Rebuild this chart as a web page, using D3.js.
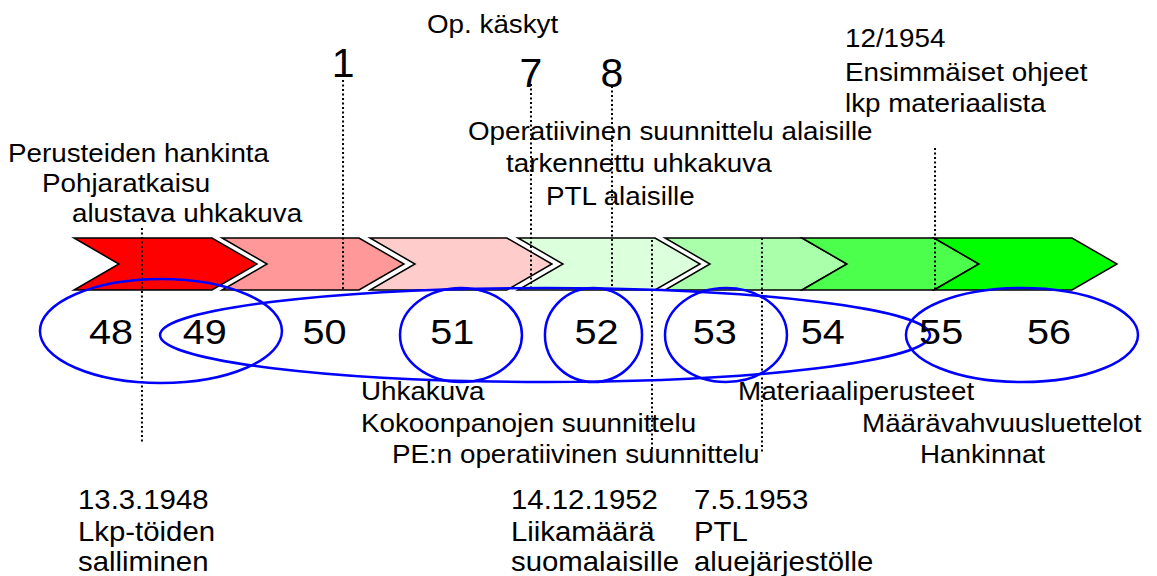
<!DOCTYPE html>
<html>
<head>
<meta charset="utf-8">
<script src="https://cdn.jsdelivr.net/npm/d3@7"></script>
<style>
body { margin: 0; background: #fff; }
text { font-family: "Liberation Sans", Arial, sans-serif; fill: #000; }
</style>
</head>
<body>
<div id="chart-area"></div>
<script>
/*
*    timeline 1948-1956
*/

// years shown under the arrows, and where they sit on the timeline
var years = ["48", "49", "50", "51", "52", "53", "54", "55", "56"];
var yearPos = [1948.0, 1948.8, 1949.82, 1950.91, 1952.14, 1953.15, 1954.07, 1955.08, 1956.0];

// phases (arrows), start and end in years
var phaseStart = [1947.684, 1948.947, 1950.209, 1951.471, 1952.725, 1953.893, 1955.019];
var phaseEnd   = [1948.861, 1950.115, 1951.377, 1952.640, 1953.893, 1955.019, 1956.196];

// blue ovals, from / to in years
var ovalFrom = [1947.394, 1948.418, 1950.465, 1951.701, 1952.725, 1954.780];
var ovalTo   = [1949.458, 1954.985, 1951.505, 1952.529, 1953.765, 1956.759];

// dotted milestone lines, in years
var milestones = [1948.264, 1949.979, 1951.582, 1952.273, 1952.614, 1953.552, 1955.028];
var orderNums = ["1", "7", "8"];   // op. käskyt at milestones 1..3

// texts
var notesStart = ["Perusteiden hankinta", "Pohjaratkaisu", "alustava uhkakuva"];
var notesOrders = ["Op. käskyt"];
var notesOper = ["Operatiivinen suunnittelu alaisille", "tarkennettu uhkakuva", "PTL alaisille"];
var notes1954 = ["12/1954", "Ensimmäiset ohjeet", "lkp materiaalista"];
var notesThreat = ["Uhkakuva", "Kokoonpanojen suunnittelu", "PE:n operatiivinen suunnittelu"];
var notesMat = ["Materiaaliperusteet", "Määrävahvuusluettelot", "Hankinnat"];
var note1948 = ["13.3.1948", "Lkp-töiden", "salliminen"];
var note1952 = ["14.12.1952", "Liikamäärä", "suomalaisille"];
var note1953 = ["7.5.1953", "PTL", "aluejärjestölle"];

var svg = d3.select("#chart-area").append("svg")
    .attr("width", 1157)
    .attr("height", 576);

var x = d3.scaleLinear()
    .domain([1948, 1956])
    .range([111, 1049]);

// arrows
var colors = ["#ff0000", "#ff9999", "#ffcccc", "#dcffdc", "#aaffaa", "#4cff4c", "#00ff00"];
var arrowTop = 238, arrowBottom = 290, arrowMid = 264, tip = 45;

svg.selectAll(".phase")
    .data(phaseStart)
    .enter().append("polygon")
    .attr("class", "phase")
    .attr("points", function(d, i) {
        var x0 = x(d), x1 = x(phaseEnd[i]);
        return [[x0, arrowTop], [x1, arrowTop], [x1 + tip, arrowMid], [x1, arrowBottom],
                [x0, arrowBottom], [x0 + tip, arrowMid]].join(" ");
    })
    .attr("fill", function(d, i) { return colors[i]; })
    .attr("stroke", "black")
    .attr("stroke-width", 1.5)
    .attr("stroke-linejoin", "miter");

// dotted lines
var lineSpan = [[228, 442], [80, 290], [84, 290], [86, 290], [240, 452], [238, 452], [148, 290]];

svg.selectAll(".milestone")
    .data(milestones)
    .enter().append("line")
    .attr("class", "milestone")
    .attr("x1", function(d) { return x(d); })
    .attr("x2", function(d) { return x(d); })
    .attr("y1", function(d, i) { return lineSpan[i][0]; })
    .attr("y2", function(d, i) { return lineSpan[i][1]; })
    .attr("stroke", "black")
    .attr("stroke-width", 2)
    .attr("stroke-dasharray", "2,2.5");

// ovals (the first one sits a little higher)
svg.selectAll(".oval")
    .data(ovalFrom)
    .enter().append("ellipse")
    .attr("class", "oval")
    .attr("cx", function(d, i) { return (x(d) + x(ovalTo[i])) / 2; })
    .attr("cy", function(d, i) { return i == 0 ? 331 : 335; })
    .attr("rx", function(d, i) { return (x(ovalTo[i]) - x(d)) / 2; })
    .attr("ry", function(d, i) { return i == 0 ? 52 : 47; })
    .attr("fill", "none")
    .attr("stroke", "#0000ff")
    .attr("stroke-width", 2.5);

// years
svg.selectAll(".year")
    .data(years)
    .enter().append("text")
    .attr("class", "year")
    .attr("transform", function(d, i) { return "translate(" + x(yearPos[i]) + ",344) scale(1.1,1)"; })
    .attr("text-anchor", "middle")
    .style("font-size", "36px")
    .text(function(d) { return d; });

// order numbers
svg.selectAll(".order")
    .data(orderNums)
    .enter().append("text")
    .attr("class", "order")
    .attr("x", function(d, i) { return x(milestones[i + 1]); })
    .attr("y", function(d, i) { return i == 0 ? 77 : 87; })
    .attr("text-anchor", "middle")
    .style("font-size", "41px")
    .text(function(d) { return d; });

function block(lines, pos, size, sx) {
    svg.append("g").selectAll("text")
        .data(lines)
        .enter().append("text")
        .attr("transform", function(d, i) { return "translate(" + pos[i][0] + "," + pos[i][1] + ") scale(" + sx + ",1)"; })
        .style("font-size", size + "px")
        .text(function(d) { return d; });
}

block(notesStart, [[8, 162], [42, 192], [72, 222]], 25.5, 1.09);
block(notesOrders, [[427, 33]], 25.5, 1.09);
block(notesOper, [[468, 140], [506, 172], [546, 205]], 25.5, 1.09);
block(notes1954, [[845, 47], [845, 81], [845, 112]], 25.5, 1.09);
block(notesThreat, [[361, 400], [361, 432], [392, 463]], 25.5, 1.09);
block(notesMat, [[738, 400], [862, 432], [920, 463]], 25.5, 1.09);
block(note1948, [[78, 509], [78, 541], [78, 571]], 28.5, 1.03);
block(note1952, [[511, 509], [511, 541], [511, 571]], 28.5, 1.03);
block(note1953, [[694, 509], [694, 541], [694, 571]], 28.5, 1.03);
</script>
</body>
</html>
